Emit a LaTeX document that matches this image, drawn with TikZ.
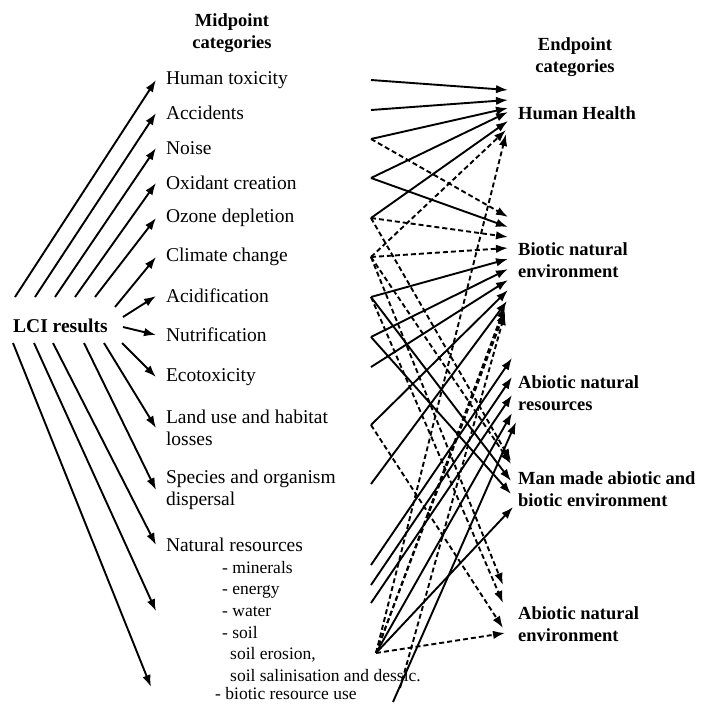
\documentclass[tikz,border=0pt]{standalone}
\usepackage{fontspec}
\setmainfont{Liberation Serif}
\usetikzlibrary{arrows.meta}
\usetikzlibrary{positioning}
\usetikzlibrary{calc}
\newcommand{\lblfont}{\fontsize{19.5}{22.5}\selectfont}
\newcommand{\subfont}{\fontsize{17.5}{21}\selectfont}
\newcommand{\bldfont}{\fontsize{18.5}{22}\selectfont\bfseries}
\tikzset{arr/.style={line width=1.9pt,-{Latex[length=12pt,width=8.5pt]}},
  darr/.style={arr,dash pattern=on 5pt off 3pt},
  mid/.style={anchor=west,inner sep=0pt,outer sep=10pt,align=left},
  sub/.style={anchor=base west,inner sep=0pt,font=\subfont},
  endp/.style={anchor=west,inner sep=0pt,align=left,font=\bldfont},
  hdr/.style={align=center,inner sep=0pt,font=\bldfont}
}

\begin{document}
\begin{tikzpicture}[x=1pt,y=-1pt,font=\lblfont]
      \useasboundingbox (0,0) rectangle (706,704);
      \node[hdr] (midh) at (232,33) {Midpoint\\categories};
      \node[hdr] (endh) at (575,57) {Endpoint\\categories};
      \node[endp,font=\fontsize{19.5}{22}\selectfont\bfseries] (lci) at (13,326) {LCI results};
      % midpoint categories
      \node[mid] (tox) at (156,80) {Human toxicity};
      \node[mid] (acc) at (156,113) {Accidents};
      \node[mid] (noise) at (156,148) {Noise};
      \node[mid] (oxi) at (156,183) {Oxidant creation};
      \node[mid] (ozo) at (156,218) {Ozone depletion};
      \node[mid] (clim) at (156,257) {Climate change};
      \node[mid] (acid) at (156,296) {Acidification};
      \node[mid] (nutr) at (156,335) {Nutrification};
      \node[mid] (eco) at (156,377) {Ecotoxicity};
      \node[mid] (land) at (156,428) {Land use and habitat\\losses};
      \node[mid] (spec) at (156,490) {Species and organism\\dispersal};
      \node[mid] (nat) at (156,545) {Natural resources};
      \node[sub] (mine) at (222,573) {- minerals};
      \node[sub] (ener) at (222,594) {- energy};
      \node[sub] (water) at (222,616) {- water};
      \node[sub] (soil) at (222,638) {- soil};
      \node[sub] (eros) at (230,659) {soil erosion,};
      \node[sub] (sali) at (230,681) {soil salinisation and dessic.};
      \node[sub] (biot) at (215,699) {- biotic resource use};
      % endpoint categories
      \node[endp] (hh) at (518,113) {Human Health};
      \node[endp] (bne) at (518,260) {Biotic natural\\environment};
      \node[endp] (anr) at (518,393) {Abiotic natural\\resources};
      \node[endp] (mme) at (518,489) {Man made abiotic and\\biotic environment};
      \node[endp] (ane) at (518,624) {Abiotic natural\\environment};
      % LCI results -> midpoints
      \foreach \x/\y/\n in {15/297/tox,35/297/acc,55/297/noise,75/297/oxi,95/297/ozo,
        115/307/clim,123/317/acid,123/327/nutr,122/343/eco,104/343/land,84/343/spec,53/343/nat}
        {\coordinate (f\n) at (\x,\y);
         \draw[arr] (f\n) -- (\n.west);}
      \coordinate (fwater) at (34,343);
      \coordinate (fbiot) at (13,343);
      \draw[arr] (fwater) -- (nat.west |- water.west);
      \draw[arr] (fbiot) -- ($(nat.west |- biot.west)+(-5,-6)$);
      % midpoints -> endpoints
      \foreach \n/\x/\y in {m1/371/80,m2/371/110,m3/371/139,m4/371/178,m5/371/218,m6/371/257,
        m7/371/297,m8/371/337,m9/371/367,m10/371/425,m11/371/484,m12/371/565,m13/371/585,
        m14/371/603,m15/376/653,m16/393/702,m17/400/688,
        h1/508/90,h2/508/100,h3/508/108,h4/508/112,h5/508/121,h6/506/130,h7/506/134,
        b1/508/217,b2/508/227,b3/508/237,b4/508/248,b5/508/259,b6/508/269,b7/508/280,
        b8/508/290,b9/507/301,b10/505/306,b11/505/311,b12/505/313,
        a1/512/358,a2/512/377,a3/512/395,a4/512/413,a5/516/422,
        r1/511/461,r2/511/464,r3/511/481,r4/511/494,r5/513/507,
        n1/503/585,n2/503/603,n3/503/628,n4/505/633}
        \coordinate (\n) at (\x,\y);
      \foreach \a/\b in {m1/h1,m2/h2,m3/h3,m4/h4,m5/h5,m4/b2,m7/b5,m8/b6,m9/b7,m10/b8,m11/b9,
        m12/a1,m13/a2,m14/a3,m15/a4,m16/a5,m7/r3,m8/r4,m15/r5}
        \draw[arr] (\a) -- (\b);
      \foreach \a/\b in {m6/h6,m15/h7,m3/b1,m5/b3,m6/b4,m15/b10,m15/b11,m17/b12,
        m5/r1,m6/r2,m6/n1,m7/n2,m10/n3,m15/n4}
        \draw[darr] (\a) -- (\b);
\end{tikzpicture}
\end{document}
